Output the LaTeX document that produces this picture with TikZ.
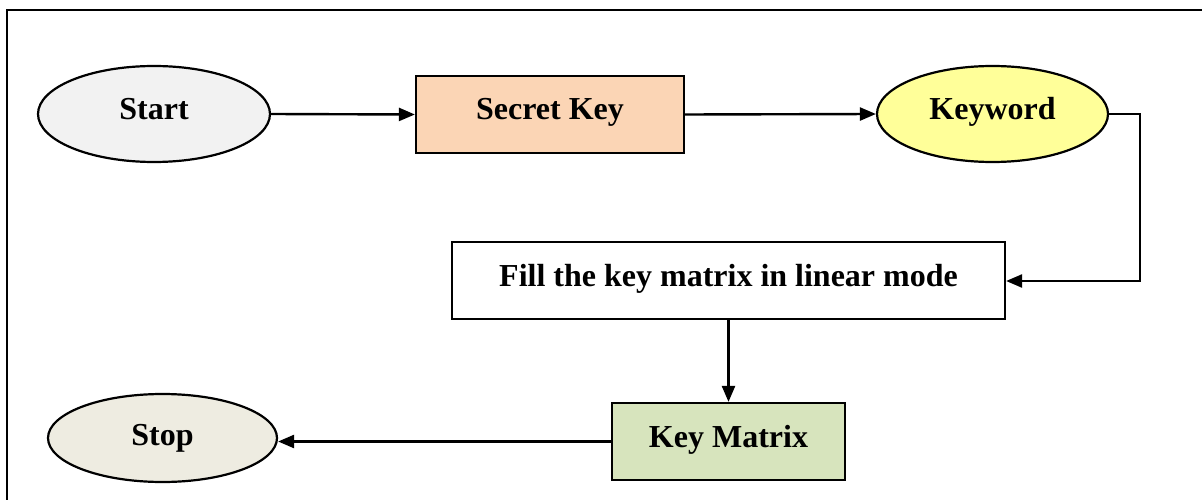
\documentclass[tikz,border=0pt]{standalone}
\usepackage{fontspec}
\setmainfont{Liberation Serif}
\usetikzlibrary{arrows.meta,shapes.geometric}
\definecolor{startc}{HTML}{F2F2F2}
\definecolor{secretc}{HTML}{FBD5B5}
\definecolor{keywordc}{HTML}{FFFF99}
\definecolor{matrixc}{HTML}{D7E4BD}
\definecolor{stopc}{HTML}{EEECE1}
\tikzset{
  base/.style={draw=black, line width=2.2pt, font=\fontsize{32}{36}\selectfont\bfseries, inner sep=0pt},
  oval/.style={base, ellipse, minimum width=232pt, minimum height=96pt},
  boxnode/.style={base, rectangle, minimum height=77pt},
  conn/.style={line width=2.4pt, -{Triangle[length=16pt,width=13pt]}},
}
\begin{document}
\begin{tikzpicture}[x=1pt,y=-1pt]
\useasboundingbox (0,0) rectangle (1202,500);
\draw[line width=2.4pt] (7,500) -- (7,10) -- (1202,10);
\node[oval, fill=startc] (start) at (154,114) {\raisebox{11pt}{Start}};
\node[boxnode, fill=secretc, minimum width=268pt] (secret) at (550,114.5) {\raisebox{11pt}{Secret Key}};
\node[oval, fill=keywordc, minimum width=231pt] (keyword) at (992.5,114) {\raisebox{11pt}{Keyword}};
\node[boxnode, fill=white, minimum width=553pt] (fill) at (728.5,280.5) {\raisebox{11pt}{Fill the key matrix in linear mode}};
\node[boxnode, fill=matrixc, minimum width=233pt] (matrix) at (728.5,441.5) {\raisebox{11pt}{Key Matrix}};
\node[oval, fill=stopc, minimum width=229pt, minimum height=88pt] (stop) at (162.5,438) {\raisebox{3pt}{Stop}};
\coordinate (bend1) at (1140,114);
\coordinate (bend2) at (1140,281);
\draw[conn] (start.east) -- (secret.west);
\draw[conn] (secret.east) -- (keyword.west);
\draw[conn] (keyword.east) -- (bend1) -- (bend2) -- (fill.east |- bend2);
\draw[conn] (fill.south) -- (matrix.north);
\draw[conn] (matrix.west) -- (stop.east |- matrix.west);
\end{tikzpicture}
\end{document}
